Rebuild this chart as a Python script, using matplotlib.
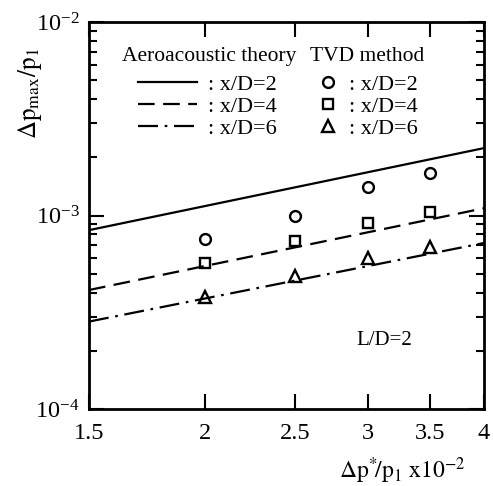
import matplotlib
matplotlib.use("Agg")
import matplotlib.pyplot as plt
from matplotlib.ticker import LogLocator, LogFormatterMathtext, NullFormatter, NullLocator, FixedLocator

plt.rcParams['font.family'] = ['Liberation Serif', 'DejaVu Serif']
plt.rcParams['mathtext.fontset'] = 'stix'

# Data
x_line = [1.5, 4.0]
theory_xd2 = [8.4e-4, 2.23e-3]
theory_xd4 = [4.12e-4, 1.09e-3]
theory_xd6 = [2.83e-4, 7.21e-4]

x_tvd = [2.0, 2.5, 3.0, 3.5]
tvd_xd2 = [7.6e-4, 1.0e-3, 1.4e-3, 1.66e-3]
tvd_xd4 = [5.7e-4, 7.4e-4, 9.1e-4, 1.04e-3]
tvd_xd6 = [3.8e-4, 4.85e-4, 6.0e-4, 6.85e-4]

xticks = [1.5, 2, 2.5, 3, 3.5, 4]
xticklabels = ['1.5', '2', '2.5', '3', '3.5', '4']
entry_labels = [': x/D=2', ': x/D=4', ': x/D=6']

W, H = 493, 486
fig = plt.figure(figsize=(W / 100, H / 100), dpi=100)
ax = fig.add_axes([89 / W, 1 - 409 / H, (484 - 89) / W, (409 - 22) / H])

lw = 1.6
l1, = ax.plot(x_line, theory_xd2, color='black', lw=lw, linestyle='-')
l2, = ax.plot(x_line, theory_xd4, color='black', lw=lw, linestyle=(0, (7.5, 3.8)))
l3, = ax.plot(x_line, theory_xd6, color='black', lw=lw, linestyle=(0, (9, 3, 1.2, 3)))

mk = dict(color='black', linestyle='none', markerfacecolor='none', markeredgewidth=1.7)
m1, = ax.plot(x_tvd, tvd_xd2, marker='o', markersize=7.8, **mk)
m2, = ax.plot(x_tvd, tvd_xd4, marker='s', markersize=7.3, **mk)
m3, = ax.plot(x_tvd, tvd_xd6, marker='^', markersize=8.3, **mk)

ax.set_xscale('log')
ax.set_yscale('log')
ax.set_xlim(1.5, 4)
ax.set_ylim(1e-4, 1e-2)

ax.xaxis.set_major_locator(FixedLocator(xticks))
ax.set_xticklabels(xticklabels)
ax.xaxis.set_minor_locator(NullLocator())
ax.xaxis.set_minor_formatter(NullFormatter())
ax.yaxis.set_major_locator(LogLocator(base=10, numticks=5))
ax.yaxis.set_major_formatter(LogFormatterMathtext())
ax.yaxis.set_minor_locator(LogLocator(base=10, subs=range(2, 10), numticks=20))
ax.yaxis.set_minor_formatter(NullFormatter())

ax.tick_params(which='both', direction='in', top=True, right=True, width=1.5, colors='black')
ax.tick_params(which='major', length=11, labelsize=17.5)
ax.tick_params(which='minor', length=6)
ax.tick_params(axis='x', pad=10)
ax.tick_params(axis='y', pad=7)
for s in ax.spines.values():
    s.set_linewidth(2)

# legend titles
ax.text(0.0835, 0.912, 'Aeroacoustic theory', transform=ax.transAxes,
        ha='left', va='center', fontsize=15.5)
ax.text(0.559, 0.912, 'TVD method', transform=ax.transAxes,
        ha='left', va='center', fontsize=15.5)

leg1 = ax.legend([l1, l2, l3], entry_labels, frameon=False, loc='upper left',
                 bbox_to_anchor=(0.124, 0.864), fontsize=16,
                 handlelength=2.65, handletextpad=0.5, labelspacing=0.06,
                 borderaxespad=0, borderpad=0)
ax.add_artist(leg1)
ax.legend([m1, m2, m3], entry_labels, frameon=False, loc='upper left',
          bbox_to_anchor=(0.579, 0.864), fontsize=16,
          handlelength=0.95, handletextpad=0.45, labelspacing=0.06,
          borderaxespad=0, borderpad=0)

ax.text(0.747, 0.178, 'L/D=2', transform=ax.transAxes, ha='center', va='center', fontsize=15)

fig.text(30 / W, 1 - 94 / H, r'$\mathit{\Delta}\mathrm{p}_{\mathrm{max}}/\mathrm{p}_1$',
         rotation=90, ha='center', va='center', fontsize=18)
fig.text(466 / W, 1 - 471 / H, r'$\mathit{\Delta}\mathrm{p}^{*}\!/\mathrm{p}_1\ \mathrm{x10}^{-2}$',
         ha='right', va='center', fontsize=17)

fig.savefig('out.png', dpi=100)
